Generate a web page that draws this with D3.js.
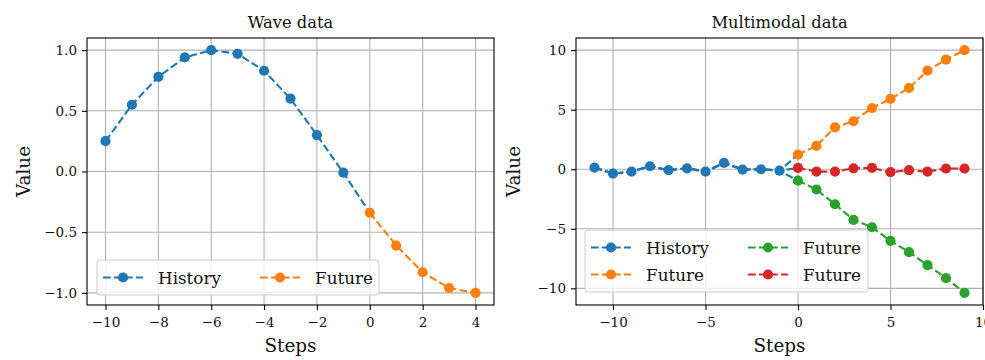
<!DOCTYPE html>
<html>
<head>
<meta charset="utf-8">
<script src="https://cdn.jsdelivr.net/npm/d3@7"></script>
<style>
  body { margin: 0; background: #fff; }
  svg { display: block; font-family: "DejaVu Serif", serif; }
</style>
</head>
<body>
<svg id="chart" width="985" height="360"></svg>
<script>
// --- wave data ---
const waveHistSteps = [-10, -9, -8, -7, -6, -5, -4, -3, -2, -1];
const waveHistory = [0.25, 0.55, 0.78, 0.94, 1.0, 0.97, 0.83, 0.60, 0.30, -0.01];
const waveFutSteps = [0, 1, 2, 3, 4];
const waveFuture = [-0.34, -0.61, -0.83, -0.96, -1.0];

// --- multimodal data ---
const multiHistSteps = [-11, -10, -9, -8, -7, -6, -5, -4, -3, -2, -1];
const multiHistory = [0.14, -0.36, -0.2, 0.25, -0.08, 0.08, -0.2, 0.53, -0.03, 0.0, -0.12];
const multiFutSteps = [0, 1, 2, 3, 4, 5, 6, 7, 8, 9];
const futureUp = [1.23, 1.96, 3.52, 4.03, 5.14, 5.9, 6.82, 8.28, 9.2, 10.0];
const futureDown = [-0.95, -1.70, -2.94, -4.25, -4.87, -6.01, -6.96, -8.05, -9.14, -10.38];
const futureFlat = [0.11, -0.2, -0.2, 0.08, 0.11, -0.25, -0.08, -0.2, 0.06, 0.06];

const waveXTicks = [-10, -8, -6, -4, -2, 0, 2, 4];
const waveYTicks = [-1.0, -0.5, 0.0, 0.5, 1.0];
const multiXTicks = [-10, -5, 0, 5, 10];
const multiYTicks = [-10, -5, 0, 5, 10];

const colors = ['#1f77b4', '#ff7f0e', '#2ca02c', '#d62728'];

const svg = d3.select('#chart');
const lw = 2.1;
const dash = '7.7,3.3';
const markerR = 5.1;

function padded(vals) {
    const [lo, hi] = d3.extent(vals);
    const p = (hi - lo) * 0.05;
    return [lo - p, hi + p];
}

function drawPanel(opts) {
    const { left, right, top, bottom } = opts.box;
    const g = svg.append('g');

    const x = d3.scaleLinear().domain(padded(opts.allX)).range([left, right]);
    const y = d3.scaleLinear().domain(padded(opts.allY)).range([bottom, top]);

    // gridlines
    g.append('g')
        .selectAll('line')
        .data(opts.xTicks.filter(t => x(t) <= right + 0.5))
        .join('line')
        .attr('x1', d => x(d)).attr('x2', d => x(d))
        .attr('y1', top).attr('y2', bottom)
        .attr('stroke', '#b0b0b0').attr('stroke-width', 1.1);
    g.append('g')
        .selectAll('line')
        .data(opts.yTicks)
        .join('line')
        .attr('x1', left).attr('x2', right)
        .attr('y1', d => y(d)).attr('y2', d => y(d))
        .attr('stroke', '#b0b0b0').attr('stroke-width', 1.1);

    const line = d3.line().x(d => x(d[0])).y(d => y(d[1]));
    const hist = opts.histSteps.map((s, i) => [s, opts.history[i]]);

    // history joined to the first point of every future
    opts.futures.forEach(f => {
        const pts = hist.concat([[opts.futSteps[0], f.values[0]]]);
        g.append('path')
            .attr('d', line(pts))
            .attr('fill', 'none')
            .attr('stroke', colors[0])
            .attr('stroke-width', lw)
            .attr('stroke-dasharray', dash);
    });
    g.append('g').selectAll('circle')
        .data(hist)
        .join('circle')
        .attr('cx', d => x(d[0])).attr('cy', d => y(d[1]))
        .attr('r', markerR).attr('fill', colors[0]);

    opts.futures.forEach(f => {
        const pts = opts.futSteps.map((s, i) => [s, f.values[i]]);
        g.append('path')
            .attr('d', line(pts))
            .attr('fill', 'none')
            .attr('stroke', f.color)
            .attr('stroke-width', lw)
            .attr('stroke-dasharray', dash);
        g.append('g').selectAll('circle')
            .data(pts)
            .join('circle')
            .attr('cx', d => x(d[0])).attr('cy', d => y(d[1]))
            .attr('r', markerR).attr('fill', f.color);
    });

    // axes
    const xAxis = d3.axisBottom(x)
        .tickValues(opts.xTicks)
        .tickSize(5).tickPadding(7)
        .tickFormat(d3.format('d'));
    const yAxis = d3.axisLeft(y)
        .tickValues(opts.yTicks)
        .tickSize(5).tickPadding(5)
        .tickFormat(d3.format(opts.yFormat));

    const xg = g.append('g')
        .attr('transform', `translate(0,${bottom})`)
        .call(xAxis);
    const yg = g.append('g')
        .attr('transform', `translate(${left},0)`)
        .call(yAxis);
    [xg, yg].forEach(a => {
        a.select('.domain').remove();
        a.selectAll('line').attr('stroke', '#000').attr('stroke-width', 1.1);
        a.selectAll('text')
            .attr('fill', '#111')
            .style('font-family', '"DejaVu Serif", serif')
            .style('font-size', '13.5px');
    });

    // frame
    g.append('rect')
        .attr('x', left).attr('y', top)
        .attr('width', right - left).attr('height', bottom - top)
        .attr('fill', 'none').attr('stroke', '#000').attr('stroke-width', 1.1);

    // title & labels
    g.append('text')
        .attr('x', (left + right) / 2).attr('y', 27.5)
        .attr('text-anchor', 'middle')
        .style('font-size', '16.3px').attr('fill', '#111')
        .text(opts.title);
    g.append('text')
        .attr('x', (left + right) / 2).attr('y', 352)
        .attr('text-anchor', 'middle')
        .style('font-size', '18.4px').attr('fill', '#111')
        .text('Steps');
    g.append('text')
        .attr('transform', `translate(${opts.ylabelX},${(top + bottom) / 2}) rotate(-90)`)
        .attr('text-anchor', 'middle')
        .style('font-size', '18.4px').attr('fill', '#111')
        .text('Value');

    drawLegend(g, opts.legend);
}

function drawLegend(g, lg) {
    const rows = Math.ceil(lg.items.length / lg.ncol);
    const rowH = 27;
    const h = 8 + rows * rowH;
    const top = lg.bottom - h;
    g.append('rect')
        .attr('x', lg.left).attr('y', top)
        .attr('width', lg.width).attr('height', h)
        .attr('rx', 3)
        .attr('fill', '#fff').attr('fill-opacity', 0.8)
        .attr('stroke', '#cccccc').attr('stroke-width', 1);

    lg.items.forEach((it, i) => {
        const col = Math.floor(i / rows);
        const row = i % rows;
        const hx = lg.left + 6 + col * 157;
        const cy = top + 4 + rowH / 2 + row * rowH;
        g.append('line')
            .attr('x1', hx).attr('x2', hx + 40)
            .attr('y1', cy).attr('y2', cy)
            .attr('stroke', it.color).attr('stroke-width', lw)
            .attr('stroke-dasharray', dash);
        g.append('circle')
            .attr('cx', hx + 20).attr('cy', cy)
            .attr('r', markerR).attr('fill', it.color);
        g.append('text')
            .attr('x', hx + 55).attr('y', cy + 6)
            .style('font-size', '16.8px').attr('fill', '#111')
            .text(it.label);
    });
}

drawPanel({
    box: { left: 87, right: 494, top: 38, bottom: 305 },
    title: 'Wave data',
    histSteps: waveHistSteps,
    history: waveHistory,
    futSteps: waveFutSteps,
    futures: [{ values: waveFuture, color: colors[1] }],
    allX: waveHistSteps.concat(waveFutSteps),
    allY: waveHistory.concat(waveFuture),
    xTicks: waveXTicks,
    yTicks: waveYTicks,
    yFormat: '.1f',
    ylabelX: 30,
    legend: {
        left: 97, bottom: 295, width: 282, ncol: 2,
        items: [
            { label: 'History', color: colors[0] },
            { label: 'Future', color: colors[1] }
        ]
    }
});

drawPanel({
    box: { left: 576, right: 983, top: 38, bottom: 305 },
    title: 'Multimodal data',
    histSteps: multiHistSteps,
    history: multiHistory,
    futSteps: multiFutSteps,
    futures: [
        { values: futureUp, color: colors[1] },
        { values: futureDown, color: colors[2] },
        { values: futureFlat, color: colors[3] }
    ],
    allX: multiHistSteps.concat(multiFutSteps),
    allY: multiHistory.concat(futureUp, futureDown, futureFlat),
    xTicks: multiXTicks,
    yTicks: multiYTicks,
    yFormat: 'd',
    ylabelX: 520,
    legend: {
        left: 585, bottom: 292, width: 283, ncol: 2,
        items: [
            { label: 'History', color: colors[0] },
            { label: 'Future', color: colors[1] },
            { label: 'Future', color: colors[2] },
            { label: 'Future', color: colors[3] }
        ]
    }
});
</script>
</body>
</html>
